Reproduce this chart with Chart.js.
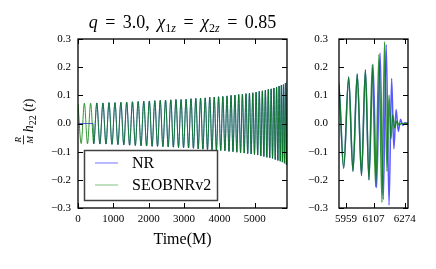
<!DOCTYPE html>
<html>
<head>
<meta charset="utf-8">
<script src="https://cdn.jsdelivr.net/npm/chart.js@4.4.0/dist/chart.umd.min.js"></script>
<style>
html, body { margin: 0; padding: 0; background: #fff; }
#wrap { position: relative; width: 436px; height: 269px; overflow: hidden; }
#mainChart { position: absolute; left: 0; top: 0; }
#zoomChart { position: absolute; left: 300px; top: 0; }
</style>
</head>
<body>
<div id="wrap">
  <canvas id="mainChart" width="300" height="269"></canvas>
  <canvas id="zoomChart" width="136" height="269"></canvas>
</div>
<script>
'use strict';

// SEOBNRv2 waveform (time in M, h22 value)
const eobTime = [0, 90, 180, 269, 357, 445, 532, 619, 705, 791, 876, 961,
  1045, 1129, 1212, 1295, 1377, 1459, 1540, 1621, 1701, 1781, 1860, 1939,
  2017, 2095, 2172, 2249, 2325, 2401, 2476, 2550, 2624, 2697, 2770, 2842, 2914, 2985,
  3056, 3126, 3195, 3264, 3332, 3399, 3466, 3532, 3597, 3662, 3726, 3789, 3852, 3914, 3975,
  4036, 4096, 4155, 4213, 4270, 4327, 4383, 4438, 4492, 4545, 4597, 4649, 4700, 4750, 4799,
  4848, 4896, 4943, 4990, 5036, 5081, 5126, 5170, 5213, 5256, 5298, 5340, 5381, 5422, 5462,
  5501, 5540, 5578, 5616, 5652, 5686, 5719, 5750, 5780, 5809, 5837, 5865, 5892, 5918, 5946,
  5973, 5996, 6019, 6042, 6063, 6082, 6100, 6118, 6136, 6152, 6166, 6179,
  6190, 6200, 6210, 6220, 6231, 6243, 6260, 6293];
const eobH = [0.071, -0.071, 0.072, -0.072, 0.072, -0.072, 0.073, -0.073, 0.073, -0.073, 0.074, -0.074,
  0.074, -0.075, 0.075, -0.076, 0.076, -0.077, 0.077, -0.078, 0.078, -0.079, 0.079, -0.080,
  0.080, -0.081, 0.081, -0.081, 0.082, -0.082, 0.083, -0.083, 0.084, -0.084, 0.085, -0.085, 0.085, -0.086,
  0.086, -0.087, 0.088, -0.088, 0.089, -0.090, 0.090, -0.091, 0.091, -0.092, 0.093, -0.093, 0.094, -0.094, 0.095,
  -0.096, 0.096, -0.097, 0.098, -0.099, 0.100, -0.100, 0.101, -0.102, 0.103, -0.104, 0.104, -0.105, 0.106, -0.107,
  0.108, -0.108, 0.109, -0.110, 0.111, -0.112, 0.114, -0.115, 0.116, -0.117, 0.118, -0.120, 0.121, -0.122, 0.123,
  -0.124, 0.126, -0.128, 0.129, -0.131, 0.133, -0.134, 0.136, -0.137, 0.138, -0.141, 0.143, -0.146, 0.150, -0.159,
  0.165, -0.170, 0.176, -0.185, 0.190, -0.200, 0.210, -0.225, 0.245, -0.280, 0.290, -0.170,
  0.100, -0.055, 0.030, -0.016, 0.008, -0.004, 0, 0];

// NR: zero until the junk ends, then follows the same inspiral, then its own merger/ringdown
const nrStartTime = [0, 426];
const nrStartH = [0, 0];
const nrFirst = 5, nrLast = 103;   // inspiral extrema shared with SEOBNRv2 (index range)
const nrMergerTime = [6104, 6123, 6142, 6159, 6175, 6190, 6204, 6216, 6228, 6240, 6252, 6264, 6276, 6293];
const nrMergerH = [0.210, -0.228, 0.250, -0.270, 0.280, -0.290, 0.160, -0.090, 0.050, -0.028, 0.015, -0.007, 0.003, 0];

const mainXTicks = [0, 1000, 2000, 3000, 4000, 5000];
const zoomXTicks = [5959, 6107, 6274];
const yTicks = [-0.3, -0.2, -0.1, 0, 0.1, 0.2, 0.3];

const serif = '"Liberation Serif", "DejaVu Serif", serif';
const nrColor = 'rgba(0, 0, 255, 0.65)';
const eobColor = 'rgba(0, 128, 0, 0.8)';
const nrLegend = 'rgba(0, 0, 255, 0.55)';
const eobLegend = 'rgba(0, 128, 0, 0.5)';

function toPoints(ts, hs) {
  return ts.map((t, i) => ({ x: t, y: hs[i] }));
}
const eobPoints = toPoints(eobTime, eobH);
const nrPoints = toPoints(
  nrStartTime.concat(eobTime.slice(nrFirst, nrLast + 1), nrMergerTime),
  nrStartH.concat(eobH.slice(nrFirst, nrLast + 1), nrMergerH));

function setFont(ctx, size, italic) {
  ctx.font = (italic ? 'italic ' : '') + size + 'px ' + serif;
}
// runs: [text, size, italic, dy]
function runsWidth(ctx, runs) {
  let w = 0;
  runs.forEach(r => { setFont(ctx, r[1], r[2]); w += ctx.measureText(r[0]).width; });
  return w;
}
function drawRuns(ctx, runs, x, y) {
  let cx = x;
  runs.forEach(r => {
    setFont(ctx, r[1], r[2]);
    ctx.fillText(r[0], cx, y + (r[3] || 0));
    cx += ctx.measureText(r[0]).width;
  });
}
function fmtY(v) {
  return v.toFixed(1).replace('-', '\u2212');
}

// frame round the plot and inward ticks on all four sides
const framePlugin = {
  id: 'frame',
  afterDraw(chart) {
    const { ctx, chartArea: a, scales } = chart;
    ctx.save();
    ctx.strokeStyle = '#000';
    ctx.lineWidth = 1;
    ctx.beginPath();
    scales.x.ticks.forEach(t => {
      const px = Math.round(scales.x.getPixelForValue(t.value)) + 0.5;
      ctx.moveTo(px, a.bottom); ctx.lineTo(px, a.bottom - 5);
      ctx.moveTo(px, a.top); ctx.lineTo(px, a.top + 5);
    });
    scales.y.ticks.forEach(t => {
      const py = Math.round(scales.y.getPixelForValue(t.value)) + 0.5;
      ctx.moveTo(a.left, py); ctx.lineTo(a.left + 5, py);
      ctx.moveTo(a.right, py); ctx.lineTo(a.right - 5, py);
    });
    ctx.stroke();
    ctx.lineWidth = 1.3;
    ctx.strokeRect(a.left, a.top, a.right - a.left, a.bottom - a.top);
    ctx.restore();
  }
};

// title, axis labels and legend of the main panel
const mainDecor = {
  id: 'mainDecor',
  afterDraw(chart) {
    const { ctx, chartArea: a } = chart;
    const cx = (a.left + a.right) / 2;
    ctx.save();
    ctx.fillStyle = '#000';
    ctx.textBaseline = 'alphabetic';

    const sp = ' \u2006';
    const title = [['q', 18, true], [sp + '=' + sp + '3.0,' + sp, 18, false], ['\u03c7', 18, true],
      ['1', 12, false, 4], ['z', 12, true, 4], [sp + '=' + sp, 18, false], ['\u03c7', 18, true],
      ['2', 12, false, 4], ['z', 12, true, 4], [sp + '=' + sp + '0.85', 18, false]];
    drawRuns(ctx, title, cx - runsWidth(ctx, title) / 2, a.top - 11);

    setFont(ctx, 16, false);
    ctx.textAlign = 'center';
    ctx.fillText('Time(M)', cx, a.bottom + 36);
    ctx.textAlign = 'left';

    // y label: R/M h22 (t), rotated
    const lab = [['h', 14, true], ['22', 10, false, 3], [' (', 14, false], ['t', 14, true], [')', 14, false]];
    const fracW = 9, gap = 3;
    const total = fracW + gap + runsWidth(ctx, lab);
    ctx.save();
    ctx.translate(33, (a.top + a.bottom) / 2 - 2);
    ctx.rotate(-Math.PI / 2);
    let lx = -total / 2;
    setFont(ctx, 9, true);
    ctx.textAlign = 'center';
    ctx.fillText('R', lx + fracW / 2, -12);
    ctx.fillText('M', lx + fracW / 2, 0);
    ctx.textAlign = 'left';
    ctx.lineWidth = 0.8;
    ctx.beginPath();
    ctx.moveTo(lx, -9.5); ctx.lineTo(lx + fracW, -9.5);
    ctx.stroke();
    drawRuns(ctx, lab, lx + fracW + gap, 0);
    ctx.restore();

    // legend box
    const bx = a.left + 6, by = a.bottom - 58, bw = 133, bh = 50;
    ctx.fillStyle = '#fff';
    ctx.fillRect(bx, by, bw, bh);
    ctx.strokeStyle = 'rgba(0,0,0,0.75)';
    ctx.lineWidth = 1.5;
    ctx.strokeRect(bx + 0.5, by + 0.5, bw, bh);
    const entries = [['NR', nrLegend], ['SEOBNRv2', eobLegend]];
    entries.forEach((e, i) => {
      const ly = by + 13 + i * 22;
      ctx.strokeStyle = e[1];
      ctx.lineWidth = 1;
      ctx.beginPath();
      ctx.moveTo(bx + 11, ly); ctx.lineTo(bx + 34, ly);
      ctx.stroke();
      ctx.fillStyle = '#000';
      setFont(ctx, 16, false);
      ctx.textBaseline = 'middle';
      ctx.fillText(e[0], bx + 48, ly + 1);
    });
    ctx.restore();
  }
};

function makeChart(id, xMin, xMax, xTicks, yWidth, yPad, padRight, lineW, extra) {
  return new Chart(document.getElementById(id), {
    type: 'line',
    data: {
      datasets: [
        { label: 'NR', data: nrPoints, borderColor: nrColor, borderWidth: lineW, order: 2 },
        { label: 'SEOBNRv2', data: eobPoints, borderColor: eobColor, borderWidth: lineW, order: 1 }
      ]
    },
    options: {
      responsive: false,
      animation: false,
      parsing: false,
      layout: { padding: { left: 0, top: 39, right: padRight, bottom: 0 } },
      elements: {
        point: { radius: 0 },
        line: { cubicInterpolationMode: 'monotone', fill: false }
      },
      plugins: { legend: { display: false }, tooltip: { enabled: false }, title: { display: false } },
      scales: {
        x: {
          type: 'linear', min: xMin, max: xMax,
          afterBuildTicks: s => { s.ticks = xTicks.map(v => ({ value: v })); },
          afterFit: s => { s.height = 61; s.paddingLeft = 0; s.paddingRight = 0; },
          grid: { display: false, drawTicks: false },
          border: { display: false },
          ticks: { color: '#000', font: { family: serif, size: 11 }, padding: 5, maxRotation: 0, autoSkip: false,
            callback: v => String(v) }
        },
        y: {
          type: 'linear', min: -0.3, max: 0.3,
          afterBuildTicks: s => { s.ticks = yTicks.map(v => ({ value: v })); },
          afterFit: s => { s.width = yWidth; s.paddingTop = 0; s.paddingBottom = 0; },
          grid: { display: false, drawTicks: false },
          border: { display: false },
          ticks: { color: '#000', font: { family: serif, size: 11 }, padding: yPad, autoSkip: false,
            callback: v => fmtY(v) }
        }
      }
    },
    plugins: [framePlugin].concat(extra)
  });
}

makeChart('mainChart', 0, 5910, mainXTicks, 78, 7, 13, 1, [mainDecor]);
makeChart('zoomChart', 5921, 6292, zoomXTicks, 39, 11, 28, 1.5, []);
</script>
</body>
</html>
